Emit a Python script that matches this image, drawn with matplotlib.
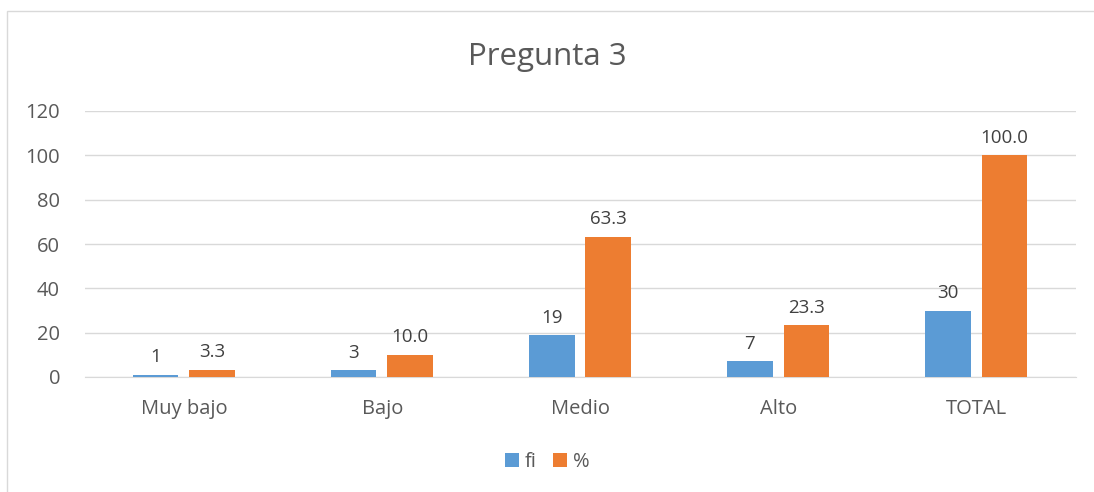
import matplotlib.pyplot as plt
import numpy as np
from matplotlib.patches import Rectangle

categories = ['Muy bajo', 'Bajo', 'Medio', 'Alto', 'TOTAL']
fi = [1, 3, 19, 7, 30]
pct = [3.3, 10.0, 63.3, 23.3, 100.0]

plt.rcParams['font.family'] = ['Open Sans', 'DejaVu Sans']
text_color = '#595959'

fig = plt.figure(figsize=(10.94, 4.92), dpi=100)
fig.patches.append(Rectangle((7 / 1094, -0.01), 1.02, 1 - 11 / 492 + 0.01,
                             transform=fig.transFigure, fill=False,
                             edgecolor='#D9D9D9', linewidth=1))
ax = fig.add_axes([85 / 1094, 1 - 377 / 492, 991 / 1094, 266 / 492])

x = np.arange(len(categories))
w = 0.23
b1 = ax.bar(x - 0.145, fi, w, color='#5B9BD5', label='fi', zorder=3)
b2 = ax.bar(x + 0.14, pct, w, color='#ED7D31', label='%', zorder=3)

# etiquetas de datos
for rect, v in zip(b1, fi):
    ax.annotate(f'{v}', (rect.get_x() + rect.get_width() / 2, v),
                xytext=(0, 6), textcoords='offset points', ha='center',
                va='bottom', fontsize=13.5, color='#404040')
for rect, v in zip(b2, pct):
    ax.annotate(f'{v:.1f}', (rect.get_x() + rect.get_width() / 2, v),
                xytext=(0, 6), textcoords='offset points', ha='center',
                va='bottom', fontsize=13.5, color='#404040')

ax.set_xlim(-0.5, 4.5)
ax.set_ylim(0, 120)
ax.set_yticks(range(0, 121, 20))
ax.set_xticks(x)
ax.set_xticklabels(categories)
ax.yaxis.grid(True, color='#D9D9D9', linewidth=1, zorder=0)
for s in ['top', 'right', 'left']:
    ax.spines[s].set_visible(False)
ax.spines['bottom'].set_color('#D9D9D9')
ax.tick_params(axis='both', length=0, labelsize=14.5, colors=text_color)
ax.tick_params(axis='x', pad=16)
ax.tick_params(axis='y', pad=18)

fig.text(0.5, 1 - 57 / 492, 'Pregunta 3', ha='center', va='center',
         fontsize=22.5, color=text_color)

fig.legend(handles=[b1, b2], loc='center', bbox_to_anchor=(0.5, 1 - 462 / 492),
           ncol=2, frameon=False, fontsize=14.5, labelcolor=text_color,
           handlelength=0.7, handleheight=0.7, handletextpad=0.3, columnspacing=0.8)

fig.savefig('out.png', dpi=100)
